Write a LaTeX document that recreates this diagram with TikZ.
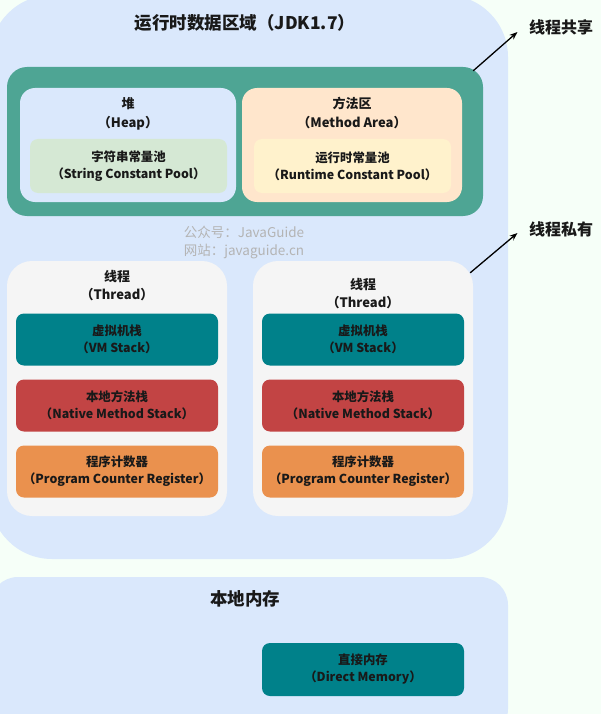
\documentclass[tikz,border=0pt]{standalone}
\usepackage{fontspec}
\setmainfont{Noto Sans CJK SC}
\usetikzlibrary{positioning,arrows.meta}
\definecolor{bgmint}{HTML}{F6FFF8}
\definecolor{areablue}{HTML}{DAE8FC}
\definecolor{sharegreen}{HTML}{4EA594}
\definecolor{poolgreen}{HTML}{D5E8D4}
\definecolor{methodorange}{HTML}{FFE6CC}
\definecolor{poolyellow}{HTML}{FFF2CC}
\definecolor{threadgray}{HTML}{F5F5F5}
\definecolor{vmteal}{HTML}{00818A}
\definecolor{nativered}{HTML}{C24444}
\definecolor{pcorange}{HTML}{EA914E}
\definecolor{markgray}{HTML}{B4B4B4}
\newcommand{\boxfont}{\bfseries\fontsize{12.4}{17}\selectfont}
\newcommand{\headfont}{\bfseries\fontsize{17.5}{20}\selectfont}
\tikzset{
  region/.style={rectangle, fill=areablue, inner sep=0pt},
  panel/.style={rectangle, inner sep=0pt, rounded corners=15pt},
  stackbox/.style={rectangle, inner sep=0pt, rounded corners=8pt, minimum width=202pt, minimum height=52pt, align=center, font=\boxfont, text=black!90},
  lbl/.style={align=center, font=\bfseries\fontsize{13}{19}\selectfont, text=black!90, inner sep=0pt},
  head/.style={font=\headfont, text=black!90},
  arr/.style={-{Stealth[length=8pt,width=6pt]}, line width=1.3pt}
}
\begin{document}
\begin{tikzpicture}[x=1pt,y=-1pt]
  \useasboundingbox (0,0) rectangle (601,714);
  \fill[bgmint] (0,0) rectangle (601,714);

  % runtime data area
  \node[region, rounded corners=62pt, minimum width=518pt, minimum height=564pt] (rda) at (249,277) {};
  \node[head] (rdatitle) at (245,23) {运行时数据区域（JDK1.7）};

  % shared by threads
  \node[panel, fill=sharegreen, rounded corners=20pt, minimum width=476pt, minimum height=149pt] (share) at (245,141.5) {};
  \node[panel, fill=areablue, minimum width=216pt, minimum height=114pt] (heap) at (128,145) {};
  \node[lbl, below=9pt of heap.north] (heaptitle) {堆\\（Heap）};
  \node[stackbox, fill=poolgreen, minimum width=197pt, minimum height=54pt] (strpool) at (128.5,166) {字符串常量池\\（String Constant Pool）};
  \node[panel, fill=methodorange, minimum width=220pt, minimum height=114pt] (method) at (352,145) {};
  \node[lbl, below=9pt of method.north] (methodtitle) {方法区\\（Method Area）};
  \node[stackbox, fill=poolyellow, minimum width=197pt, minimum height=54pt] (rtpool) at (352.5,166) {运行时常量池\\（Runtime Constant Pool）};

  \node[align=left, text=markgray, inner sep=0pt, font=\fontsize{13.5}{18}\selectfont] (wm) at (244,242) {公众号：JavaGuide\\网站：javaguide.cn};

  % threads
  \foreach \cx/\ty [count=\i] in {117/286, 363/294} {
    \node[panel, fill=threadgray, rounded corners=25pt, minimum width=220pt, minimum height=255pt] (thr\i) at (\cx,388.5) {};
    \node[lbl, font=\bfseries\fontsize{13}{18}\selectfont] (thrtitle\i) at (\cx,\ty) {线程\\（Thread）};
    \node[stackbox, fill=vmteal] (vm\i) at (\cx,339.5) {虚拟机栈\\（VM Stack）};
    \node[stackbox, fill=nativered] (nat\i) at (\cx,405.5) {本地方法栈\\（Native Method Stack）};
    \node[stackbox, fill=pcorange] (pc\i) at (\cx,471.5) {程序计数器\\（Program Counter Register）};
  }

  % side labels
  \node[head, font=\bfseries\fontsize{16}{19}\selectfont] (shlab) at (561,27) {线程共享};
  \node[head, font=\bfseries\fontsize{16}{19}\selectfont] (prlab) at (561,229) {线程私有};
  \draw[arr] ([xshift=-10pt,yshift=-4pt]share.north east) -- ([xshift=-8pt,yshift=-5pt]shlab.west);
  \draw[arr] ([xshift=-3pt,yshift=-12pt]thr2.north east) -- ([xshift=-8pt,yshift=-4pt]prlab.west);

  % native memory
  \node[region, rounded corners=28pt, minimum width=518pt, minimum height=160pt] (local) at (249,657) {};
  \node[head] (localtitle) at (245,599) {本地内存};
  \node[stackbox, fill=vmteal, minimum height=53pt] (direct) at (363,669.5) {直接内存\\（Direct Memory）};
\end{tikzpicture}
\end{document}
